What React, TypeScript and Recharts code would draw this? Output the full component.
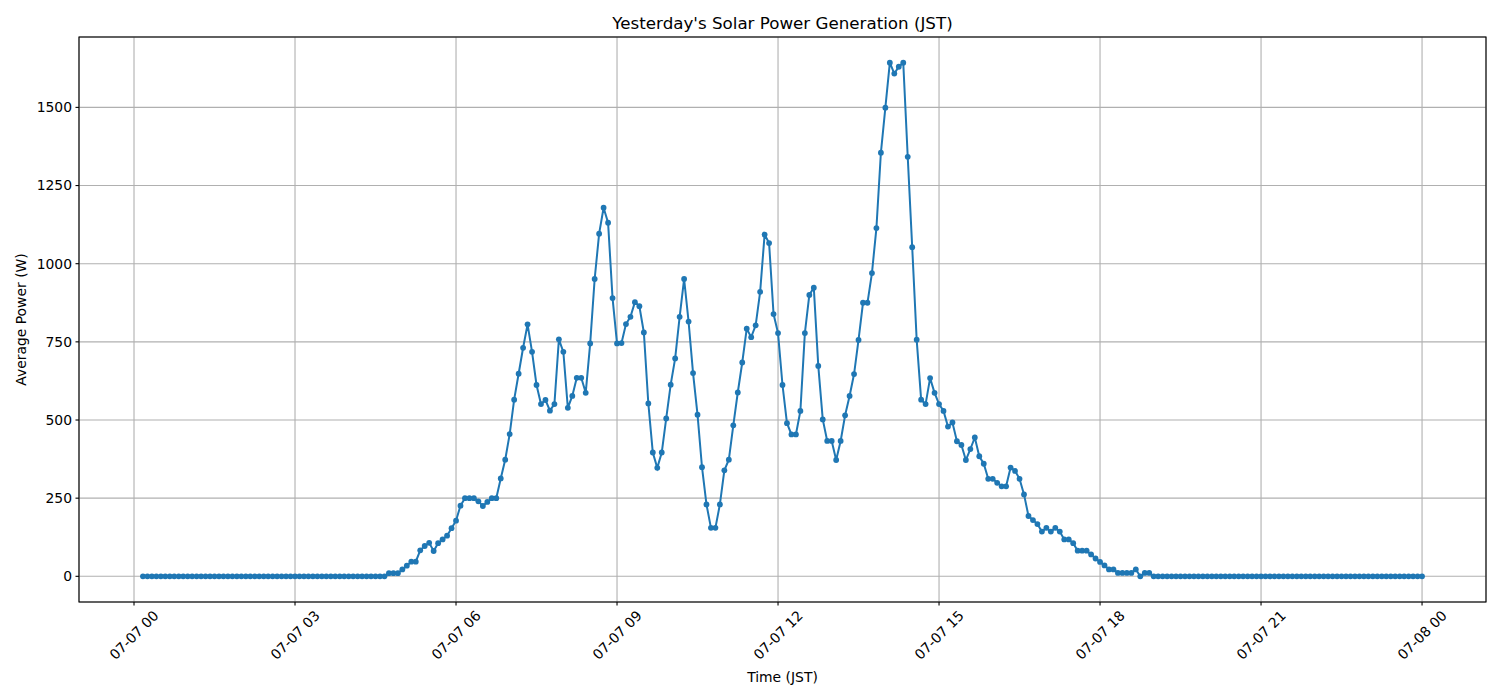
import { LineChart, Line, XAxis, YAxis, CartesianGrid } from 'recharts';

// 5-minute averages, first sample at 00:10 JST, last at 24:00 JST
const START_MIN = 10;
const STEP_MIN = 5;

const POWER_W = [
    // 00:10 - 04:40
    0, 0, 0, 0, 0, 0, 0, 0, 0, 0, 0, 0, 0, 0, 0, 0, 0, 0, 0, 0,
    0, 0, 0, 0, 0, 0, 0, 0, 0, 0, 0, 0, 0, 0, 0, 0, 0, 0, 0, 0,
    0, 0, 0, 0, 0, 0, 0, 0, 0, 0, 0, 0, 0, 0, 0,
    // 04:45 -
    10, 10, 10, 22, 34, 47, 47, 83, 97, 107,
    81, 106, 118, 130, 154, 178, 226, 250, 250, 250,
    240, 225, 238, 250, 250, 313, 373, 455, 565, 648,
    731, 806, 718, 612, 551, 564, 530, 551, 758, 718,
    539, 577, 635, 635, 587, 745, 951, 1096, 1179, 1131,
    890, 745, 746, 807, 830, 877, 864, 780, 553, 396,
    347, 396, 505, 613, 697, 830, 951, 815, 650, 517,
    349, 230, 155, 155, 230, 339, 373, 483, 588, 684,
    792, 765, 803, 910, 1093, 1066, 839, 778, 612, 490,
    454, 454, 529, 778, 900, 923, 673, 502, 433, 433,
    372, 433, 515, 577, 647, 756, 875, 875, 970, 1114,
    1355, 1499, 1643, 1608, 1630, 1643, 1342, 1053, 757, 565,
    551, 634, 587, 551, 529, 479, 492, 432, 420, 372,
    407, 444, 384, 360, 312, 312, 299, 288, 288, 348,
    337, 312, 262, 193, 180, 167, 143, 155, 143, 155,
    143, 118, 118, 106, 82, 82, 82, 70, 57, 46,
    35, 22, 22, 11, 11, 11, 11, 22, 0, 11,
    11,
    // 19:00 - 24:00
    0, 0, 0, 0, 0, 0, 0, 0, 0, 0, 0, 0, 0, 0, 0, 0, 0, 0, 0, 0,
    0, 0, 0, 0, 0, 0, 0, 0, 0, 0, 0, 0, 0, 0, 0, 0, 0, 0, 0, 0,
    0, 0, 0, 0, 0, 0, 0, 0, 0, 0, 0, 0, 0, 0, 0, 0, 0, 0, 0, 0,
    0,
];

const X_TICKS_MIN = [0, 180, 360, 540, 720, 900, 1080, 1260, 1440];
const X_TICK_LABELS = ['07-07 00', '07-07 03', '07-07 06', '07-07 09', '07-07 12', '07-07 15', '07-07 18', '07-07 21', '07-08 00'];
const Y_TICKS = [0, 250, 500, 750, 1000, 1250, 1500];

const FONT = "'DejaVu Sans', sans-serif";
const W = 1500;
const H = 700;
const PLOT = { left: 79, top: 37, right: 1486, bottom: 602 };

const data = POWER_W.map((w, i) => ({ min: START_MIN + i * STEP_MIN, power: w }));

// matplotlib-style 5% margins
const xSpan = data[data.length - 1].min - data[0].min;
const X_DOMAIN = [data[0].min - xSpan * 0.05, data[data.length - 1].min + xSpan * 0.05];
const yMax = Math.max(...POWER_W);
const Y_DOMAIN = [-yMax * 0.05, yMax * 1.05];

function XTick({ x, y, payload }: any) {
    const idx = X_TICKS_MIN.indexOf(payload.value);
    return (
        <g transform={`translate(${x},${y + 26})`}>
            <text
                transform="rotate(-45)"
                textAnchor="middle"
                dominantBaseline="central"
                fontSize={13.9}
                fontFamily={FONT}
                fill="#000"
            >
                {X_TICK_LABELS[idx]}
            </text>
        </g>
    );
}

export default function App() {
    const cx = (PLOT.left + PLOT.right) / 2;
    const cy = (PLOT.top + PLOT.bottom) / 2;
    return (
        <div style={{ position: 'absolute', left: 0, top: 0, width: W, height: H, background: '#fff' }}>
            <LineChart width={W} height={H} data={data} margin={{ top: PLOT.top, right: W - PLOT.right, left: 0, bottom: 0 }}>
                <CartesianGrid stroke="#b0b0b0" strokeWidth={1.1} />
                <XAxis
                    dataKey="min"
                    type="number"
                    domain={X_DOMAIN}
                    ticks={X_TICKS_MIN}
                    allowDataOverflow
                    height={H - PLOT.bottom}
                    axisLine={false}
                    tickLine={{ stroke: '#000', strokeWidth: 1.1 }}
                    tickSize={3.5}
                    tickMargin={3.5}
                    tick={<XTick />}
                    interval={0}
                />
                <YAxis
                    type="number"
                    domain={Y_DOMAIN}
                    ticks={Y_TICKS}
                    allowDataOverflow
                    width={PLOT.left}
                    axisLine={false}
                    tickLine={{ stroke: '#000', strokeWidth: 1.1 }}
                    tickSize={3.5}
                    tickMargin={3.5}
                    tick={{ fill: '#000', fontSize: 13.9, fontFamily: FONT }}
                    interval={0}
                />
                <Line
                    type="linear"
                    dataKey="power"
                    stroke="#1f77b4"
                    strokeWidth={2}
                    dot={{ r: 2.9, fill: '#1f77b4', stroke: 'none' }}
                    activeDot={false}
                    isAnimationActive={false}
                />
            </LineChart>
            <svg width={W} height={H} style={{ position: 'absolute', left: 0, top: 0, pointerEvents: 'none' }}>
                <rect
                    x={PLOT.left}
                    y={PLOT.top}
                    width={PLOT.right - PLOT.left}
                    height={PLOT.bottom - PLOT.top}
                    fill="none"
                    stroke="#000"
                    strokeWidth={1.1}
                />
                <text x={cx} y={29} textAnchor="middle" fontSize={16.7} fontFamily={FONT} fill="#000">
                    Yesterday's Solar Power Generation (JST)
                </text>
                <text x={cx} y={682} textAnchor="middle" fontSize={13.9} fontFamily={FONT} fill="#000">
                    Time (JST)
                </text>
                <text
                    transform={`translate(26,${cy}) rotate(-90)`}
                    textAnchor="middle"
                    fontSize={13.9}
                    fontFamily={FONT}
                    fill="#000"
                >
                    Average Power (W)
                </text>
            </svg>
        </div>
    );
}
